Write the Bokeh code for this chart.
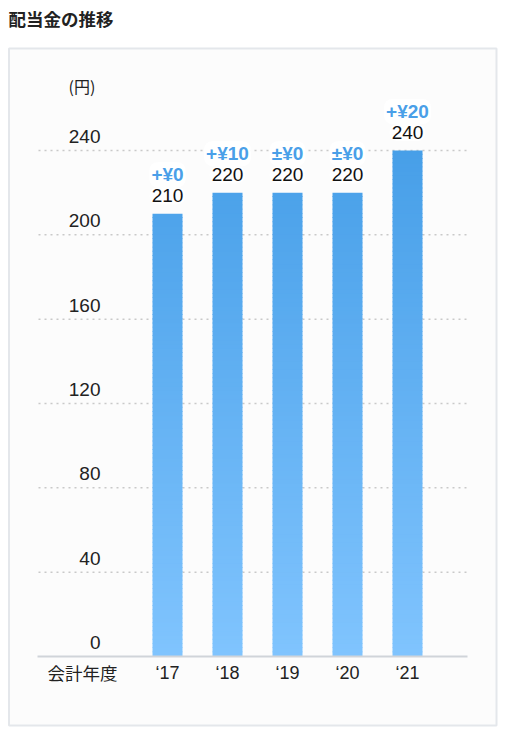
import numpy as np

from bokeh.core.properties import value
from bokeh.embed import file_html
from bokeh.models import ColumnDataSource, Range1d
from bokeh.plotting import figure
from bokeh.resources import INLINE

years = ["‘17", "‘18", "‘19", "‘20", "‘21"]
dividends = [210, 220, 220, 220, 240]
changes = ["+¥0", "+¥10", "±¥0", "±¥0", "+¥20"]
y_ticks = [0, 40, 80, 120, 160, 200, 240]

FONT = value("Helvetica, 'Liberation Sans', 'Noto Sans CJK JP', sans-serif")
JP = value("'Noto Sans CJK JP', sans-serif")

W, H = 505, 735
k = 506 / 240  # pixels per yen

p = figure(width=W, height=H, output_backend="svg", toolbar_location=None,
           x_axis_location=None, y_axis_location=None,
           x_range=Range1d(-167 / 60, (W - 167) / 60),
           y_range=Range1d(-(H - 656) / k, 656 / k),
           min_border=0, outline_line_color=None,
           background_fill_color="white", border_fill_color="white")
p.grid.visible = False
p.extra_x_ranges = {"px": Range1d(0, W)}
p.extra_y_ranges = {"px": Range1d(H, 0)}

# panel box
p.quad(left=8.5, right=496, top=48, bottom=725, fill_color="#fcfcfc",
       line_color="#e4e7eb", line_width=2, x_range_name="px", y_range_name="px")

# title
p.text(x=[8], y=[18], text=["配当金の推移"], text_font=JP, text_font_size="17.5px",
       text_font_style="bold", text_color="#222222", text_baseline="middle",
       x_range_name="px", y_range_name="px")

# dotted grid
p.segment(x0=38, x1=466, y0=y_ticks[1:], y1=y_ticks[1:], line_color="#c9c9c9",
          line_width=1.5, line_dash="2 4", x_range_name="px")

# gradient bars, built from thin slices
top_rgb = np.array([71, 159, 232])
bot_rgb = np.array([128, 196, 254])
seg = 2
xs, bots, tops, cols = [], [], [], []
for i, v in enumerate(dividends):
    for b in np.arange(0, v, seg):
        t = min(b + seg + 0.4, v)
        f = (b + min(b + seg, v)) / 2 / max(y_ticks)
        c = bot_rgb + (top_rgb - bot_rgb) * f
        xs.append(i)
        bots.append(b)
        tops.append(t)
        cols.append("#%02x%02x%02x" % tuple(int(round(a)) for a in c))
p.vbar(x="x", bottom="b", top="t", width=0.5, fill_color="c", line_color=None,
       source=ColumnDataSource(dict(x=xs, b=bots, t=tops, c=cols)))

# baseline
p.segment(x0=[37], x1=[467], y0=[0], y1=[0], line_color="#d0d4d9", line_width=2,
          x_range_name="px")

# y tick labels
p.text(x=100, y=y_ticks, text=[str(t) for t in y_ticks], text_font=FONT,
       text_font_size="19px", text_color="#222222", text_align="right",
       text_baseline="alphabetic", y_offset=-14, x_range_name="px")
p.text(x=[68], y=[85], text=["(円)"], text_font=JP, text_font_size="16px",
       text_color="#222222", text_baseline="alphabetic",
       x_range_name="px", y_range_name="px")

# bar labels
src = ColumnDataSource(dict(x=list(range(len(years))), y=dividends,
                            v=[str(d) for d in dividends], ch=changes))
p.text(x="x", y="y", text="v", source=src, text_font=FONT, text_font_size="19px",
       text_color="#111111", text_align="center", text_baseline="alphabetic",
       y_offset=-18, background_fill_color="white", padding=2, border_radius=8)
p.text(x="x", y="y", text="ch", source=src, text_font=FONT, text_font_size="19px",
       text_font_style="bold", text_color="#4a9fe8", text_align="center",
       text_baseline="alphabetic", y_offset=-39, background_fill_color="white",
       padding=2, border_radius=8)

# x labels
p.text(x=list(range(len(years))), y=[672] * len(years), text=years, text_font=FONT,
       text_font_size="18px", text_color="#222222", text_align="center",
       text_baseline="alphabetic", y_range_name="px")
p.text(x=[82], y=[672], text=["会計年度"], text_font=JP, text_font_size="17.5px",
       text_color="#222222", text_align="center", text_baseline="alphabetic",
       x_range_name="px", y_range_name="px")

open("out.html", "w").write(file_html(p, INLINE))
